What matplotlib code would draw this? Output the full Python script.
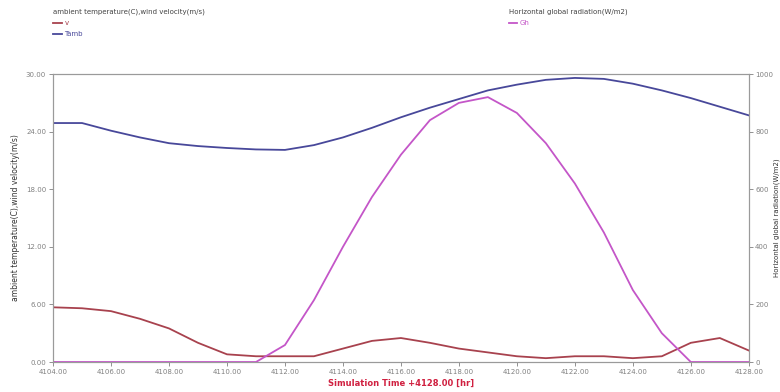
import numpy as np
import matplotlib
matplotlib.use("Agg")
import matplotlib.pyplot as plt

# hourly simulation output
hours = np.arange(4104, 4129)
t_amb = [24.9, 24.9, 24.1, 23.4, 22.8, 22.5, 22.3, 22.15, 22.1, 22.6, 23.4, 24.4, 25.5,
         26.5, 27.4, 28.3, 28.9, 29.4, 29.6, 29.5, 29.0, 28.3, 27.5, 26.6, 25.7]
wind_v = [5.7, 5.6, 5.3, 4.5, 3.5, 2.0, 0.8, 0.6, 0.6, 0.6, 1.4, 2.2, 2.5,
          2.0, 1.4, 1.0, 0.6, 0.4, 0.6, 0.6, 0.4, 0.6, 2.0, 2.5, 1.2]
gh = [0, 0, 0, 0, 0, 0, 0, 0, 59, 215, 400, 573, 720,
      840, 900, 920, 865, 760, 620, 450, 250, 100, 0, 0, 0]

left_ticks = [0, 6, 12, 18, 24, 30]
right_ticks = [0, 200, 400, 600, 800, 1000]
x_ticks = np.arange(4104, 4129, 2)

c_v = "#a8424e"
c_t = "#48489a"
c_g = "#c456c8"
grey = "#808080"

fig = plt.figure(figsize=(7.8, 3.92), dpi=100)
ax = fig.add_axes([0.068, 0.0765, 0.892, 0.7345])
ax2 = ax.twinx()

lv, = ax.plot(hours, wind_v, color=c_v, lw=1.3)
lt, = ax.plot(hours, t_amb, color=c_t, lw=1.3)
lg, = ax2.plot(hours, gh, color=c_g, lw=1.3)

ax.set_xlim(4104, 4128)
ax.set_ylim(0, 30)
ax2.set_ylim(0, 1000)
ax.set_xticks(x_ticks)
ax.set_xticklabels([f"{x:.2f}" for x in x_ticks])
ax.set_yticks(left_ticks)
ax.set_yticklabels([f"{y:.2f}" for y in left_ticks])
ax2.set_yticks(right_ticks)

for a in (ax, ax2):
    a.tick_params(labelsize=5, colors=grey, length=3, width=0.6, pad=2)
    for s in a.spines.values():
        s.set_color("#9a9a9a")
        s.set_linewidth(0.8)
ax2.tick_params(pad=1.5)

ax.set_ylabel("ambient temperature(C),wind velocity(m/s)", fontsize=5.5, color="#333333", labelpad=4)
ax2.set_ylabel("Horizontal global radiation(W/m2)", fontsize=5, color="#333333")
ax2.yaxis.set_label_coords(1.036, 0.5)
ax.set_xlabel("Simulation Time +4128.00 [hr]", fontsize=6, color="#d02040", fontweight="bold", labelpad=3)

leg_kw = dict(loc="upper left", frameon=False, fontsize=5, title_fontsize=5,
              handlelength=1.2, handletextpad=0.4, labelspacing=0.7,
              borderpad=0.2, alignment="left")

leg1 = fig.legend([lv, lt], ["v", "Tamb"], title="ambient temperature(C),wind velocity(m/s)",
                  bbox_to_anchor=(0.062, 0.99), **leg_kw)
for txt, col in zip(leg1.get_texts(), [c_v, c_t]):
    txt.set_color(col)
leg1.get_title().set_color("#444444")

leg2 = fig.legend([lg], ["Gh"], title="Horizontal global radiation(W/m2)",
                  bbox_to_anchor=(0.646, 0.99), **leg_kw)
leg2.get_texts()[0].set_color(c_g)
leg2.get_title().set_color("#444444")

fig.savefig("out.png", dpi=100)
